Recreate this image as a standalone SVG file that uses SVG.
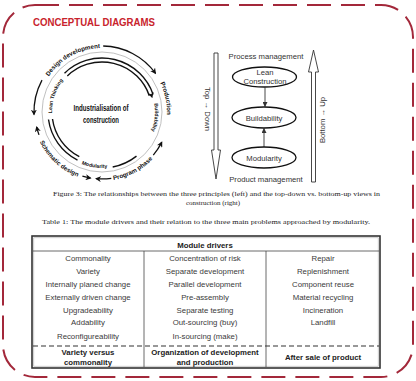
<svg xmlns="http://www.w3.org/2000/svg" width="416" height="381" viewBox="0 0 416 381">
<defs>
<style>
.frame{fill:none;stroke:#a3283a;stroke-width:2;stroke-dasharray:24 10}
.title{font-family:"Liberation Sans",Arial,sans-serif;font-weight:bold;font-size:11px;fill:#c8232c}
.ring{font-family:"Liberation Sans",Arial,sans-serif;font-weight:bold;font-size:6.2px;fill:#111}
.inring{font-family:"Liberation Sans",Arial,sans-serif;font-weight:bold;font-size:5.2px;fill:#111}
.arc{fill:none;stroke:#111;stroke-width:1.3}
.arcb{fill:none;stroke:#111;stroke-width:1.4}
.center{font-family:"Liberation Sans",Arial,sans-serif;font-weight:bold;font-size:8.5px;fill:#111}
.lbl{font-family:"Liberation Sans",Arial,sans-serif;font-size:7.7px;fill:#333}
.ell{fill:#fff;stroke:#111;stroke-width:1.3}
.hollow{fill:#fff;stroke:#333;stroke-width:0.9}
.cap{font-family:"Liberation Serif","Times New Roman",serif;font-size:7px;fill:#222}
.cell{font-family:"Liberation Sans",Arial,sans-serif;font-size:7.8px;fill:#3a3a3a;text-anchor:middle}
.bold{font-family:"Liberation Sans",Arial,sans-serif;font-size:7.8px;font-weight:bold;fill:#222;text-anchor:middle}
.grid{stroke:#444;stroke-width:0.8;fill:none}
</style>
<marker id="ah" viewBox="0 0 10 10" refX="8" refY="5" markerWidth="6" markerHeight="6" markerUnits="userSpaceOnUse" orient="auto">
<path d="M0,0 L10,5 L0,10 L3,5 Z" fill="#111"/>
</marker>
<marker id="ahs" viewBox="0 0 10 10" refX="9" refY="5" markerWidth="5" markerHeight="5" markerUnits="userSpaceOnUse" orient="auto">
<path d="M0,0 L10,5 L0,10 Z" fill="#333"/>
</marker>
<path id="pDD" d="M47.7,78.1 A64,64 0 0,1 102,48"/>
<path id="pPR" d="M159.9,82.5 A65,65 0 0,1 166.9,115.4"/>
<path id="pPP" d="M111.6,180.3 A69,69 0 0,0 153.9,157.4"/>
<path id="pSD" d="M38.5,139.0 A69,69 0 0,0 80.6,177.6"/>
<path id="pLT" d="M52.2,116.4 A50,50 0 0,1 66.6,76.6"/>
<path id="pBU" d="M153.4,99.2 A53,53 0 0,1 149.6,135.2"/>
<path id="pMO" d="M79.2,163.2 A56,56 0 0,0 109.8,167.5"/>
</defs>
<rect width="416" height="381" fill="#fff"/>
<rect class="frame" x="3" y="5" width="410" height="372" rx="32" ry="32"/>
<text class="title" x="33" y="26" textLength="122" lengthAdjust="spacingAndGlyphs">CONCEPTUAL DIAGRAMS</text>

<g id="connectors">
<circle cx="102" cy="112" r="60" fill="none" stroke="#b0b0b0" stroke-width="0.8"/>
<path class="arc" d="M103.2,46.0 A66,66 0 0,1 155.4,73.2" marker-end="url(#ah)"/>
<path class="arc" d="M153.3,155.1 A67,67 0 0,0 161.7,142.4" marker-end="url(#ah)"/>
<path class="arc" d="M111.3,178.3 A67,67 0 0,1 96.2,178.7" marker-end="url(#ah)"/>
<path class="arc" d="M82.4,176.1 A67,67 0 0,0 90.4,178.0" marker-end="url(#ah)"/>
<path class="arc" d="M39.0,134.9 A67,67 0 0,1 36.7,127.1" marker-end="url(#ah)"/>
<path class="arc" d="M42.0,80.1 A68,68 0 0,0 34.0,114.4" marker-end="url(#ah)"/>
<path class="arcb" d="M64.5,73.2 A54,54 0 0,1 153.1,94.4"/>
<path class="arcb" d="M67.3,76.0 A50,50 0 0,1 149.3,95.7"/>
<path fill="none" stroke="none" d="M65.9,74.6 A52,52 0 0,1 152.0,97.0" marker-end="url(#ah)"/>
<path class="arcb" d="M48.5,119.5 A54,54 0 0,0 77.5,160.1"/>
<path class="arcb" d="M52.5,119.0 A50,50 0 0,0 79.3,156.6"/>
<path class="arcb" d="M112.7,167.0 A56,56 0 0,0 136.5,156.1"/>
<line x1="265" y1="87.5" x2="265" y2="106.5" stroke="#333" stroke-width="0.9" marker-end="url(#ahs)"/>
<line x1="264" y1="147" x2="264" y2="128.5" stroke="#333" stroke-width="0.9" marker-end="url(#ahs)"/>
</g>

<g id="ring-labels">
<text class="ring"><textPath href="#pDD" startOffset="50%" text-anchor="middle">Design development</textPath></text>
<text class="ring"><textPath href="#pPR" startOffset="50%" text-anchor="middle">Production</textPath></text>
<text class="ring"><textPath href="#pPP" startOffset="50%" text-anchor="middle">Program phase</textPath></text>
<text class="ring"><textPath href="#pSD" startOffset="50%" text-anchor="middle">Schematic design</textPath></text>
<text class="inring"><textPath href="#pLT" startOffset="48%" text-anchor="middle">Lean Thinking</textPath></text>
<text class="inring"><textPath href="#pBU" startOffset="50%" text-anchor="middle">Buildability</textPath></text>
<text class="inring"><textPath href="#pMO" startOffset="50%" text-anchor="middle">Modularity</textPath></text>
</g>
<g id="center-node">
<text class="center" x="101" y="111" text-anchor="middle" textLength="55" lengthAdjust="spacingAndGlyphs">Industrialisation of</text>
<text class="center" x="101" y="122.5" text-anchor="middle" textLength="36" lengthAdjust="spacingAndGlyphs">construction</text>
</g>

<g id="top-down">
<path class="hollow" d="M214,53 L218,53 L218,150 L220.5,150 L216,179 L211.5,150 L214,150 Z"/>
<text class="lbl" transform="translate(204.5,109) rotate(90)" text-anchor="middle">Top → Down</text>
</g>
<g id="bottom-up">
<path class="hollow" d="M313.5,50 L318.5,72 L315.5,72 L315.5,182 L311.5,182 L311.5,72 L308.5,72 Z"/>
<text class="lbl" transform="translate(325,120) rotate(-90)" text-anchor="middle">Bottom → Up</text>
</g>
<text class="lbl" x="266" y="58.5" text-anchor="middle">Process management</text>
<text class="lbl" x="266" y="181.5" text-anchor="middle">Product management</text>
<g id="lean">
<ellipse class="ell" cx="264.5" cy="77" rx="32" ry="10"/>
<text class="lbl" x="265" y="74.5" text-anchor="middle">Lean</text>
<text class="lbl" x="265" y="83.5" text-anchor="middle">Construction</text>
</g>
<g id="buildability">
<ellipse class="ell" cx="264" cy="117.5" rx="32" ry="10.5"/>
<text class="lbl" x="264" y="120.5" text-anchor="middle">Buildability</text>
</g>
<g id="modularity">
<ellipse class="ell" cx="264" cy="157.5" rx="32" ry="10.5"/>
<text class="lbl" x="264" y="160.5" text-anchor="middle">Modularity</text>
</g>

<g id="captions">
<text class="cap" x="216.5" y="195.5" text-anchor="middle" textLength="327" lengthAdjust="spacingAndGlyphs">Figure 3: The relationships between the three principles (left) and the top-down vs. bottom-up views in</text>
<text class="cap" x="213" y="204.5" text-anchor="middle">construction (right)</text>
<text class="cap" x="206" y="223.5" text-anchor="middle" textLength="328" lengthAdjust="spacingAndGlyphs">Table 1: The module drivers and their relation to the three main problems approached by modularity.</text>
</g>

<g id="table">
<rect x="32" y="236" width="348" height="132" fill="none" stroke="#333" stroke-width="1.6"/>
<rect x="33.8" y="237.8" width="344.4" height="128.4" fill="none" stroke="#aaa" stroke-width="0.6"/>
<line class="grid" x1="33" y1="251" x2="379" y2="251" stroke="#888"/>
<line class="grid" x1="144" y1="251" x2="144" y2="367"/>
<line class="grid" x1="266" y1="251" x2="266" y2="367"/>
<line x1="33" y1="346" x2="379" y2="346" stroke="#333" stroke-width="1.2" stroke-dasharray="5 3"/>
<text class="bold" x="205" y="247.5">Module drivers</text>
<g class="cell">
<text class="cell" x="88" y="261">Commonality</text>
<text class="cell" x="88" y="274">Variety</text>
<text class="cell" x="88" y="287">Internally planed change</text>
<text class="cell" x="88" y="299.5">Externally driven change</text>
<text class="cell" x="88" y="312.5">Upgradeability</text>
<text class="cell" x="88" y="325">Addability</text>
<text class="cell" x="88" y="339">Reconfigureability</text>
<text class="cell" x="205" y="261">Concentration of risk</text>
<text class="cell" x="205" y="274">Separate development</text>
<text class="cell" x="205" y="287">Parallel development</text>
<text class="cell" x="205" y="299.5">Pre-assembly</text>
<text class="cell" x="205" y="312.5">Separate testing</text>
<text class="cell" x="205" y="325">Out-sourcing (buy)</text>
<text class="cell" x="205" y="339">In-sourcing (make)</text>
<text class="cell" x="323" y="261">Repair</text>
<text class="cell" x="323" y="274">Replenishment</text>
<text class="cell" x="323" y="287">Component reuse</text>
<text class="cell" x="323" y="299.5">Material recycling</text>
<text class="cell" x="323" y="312.5">Incineration</text>
<text class="cell" x="323" y="325">Landfill</text>
</g>
<text class="bold" x="88" y="355">Variety versus</text>
<text class="bold" x="88" y="364.5">commonality</text>
<text class="bold" x="205" y="355">Organization of development</text>
<text class="bold" x="205" y="364.5">and production</text>
<text class="bold" x="323" y="360">After sale of product</text>
</g>
</svg>
